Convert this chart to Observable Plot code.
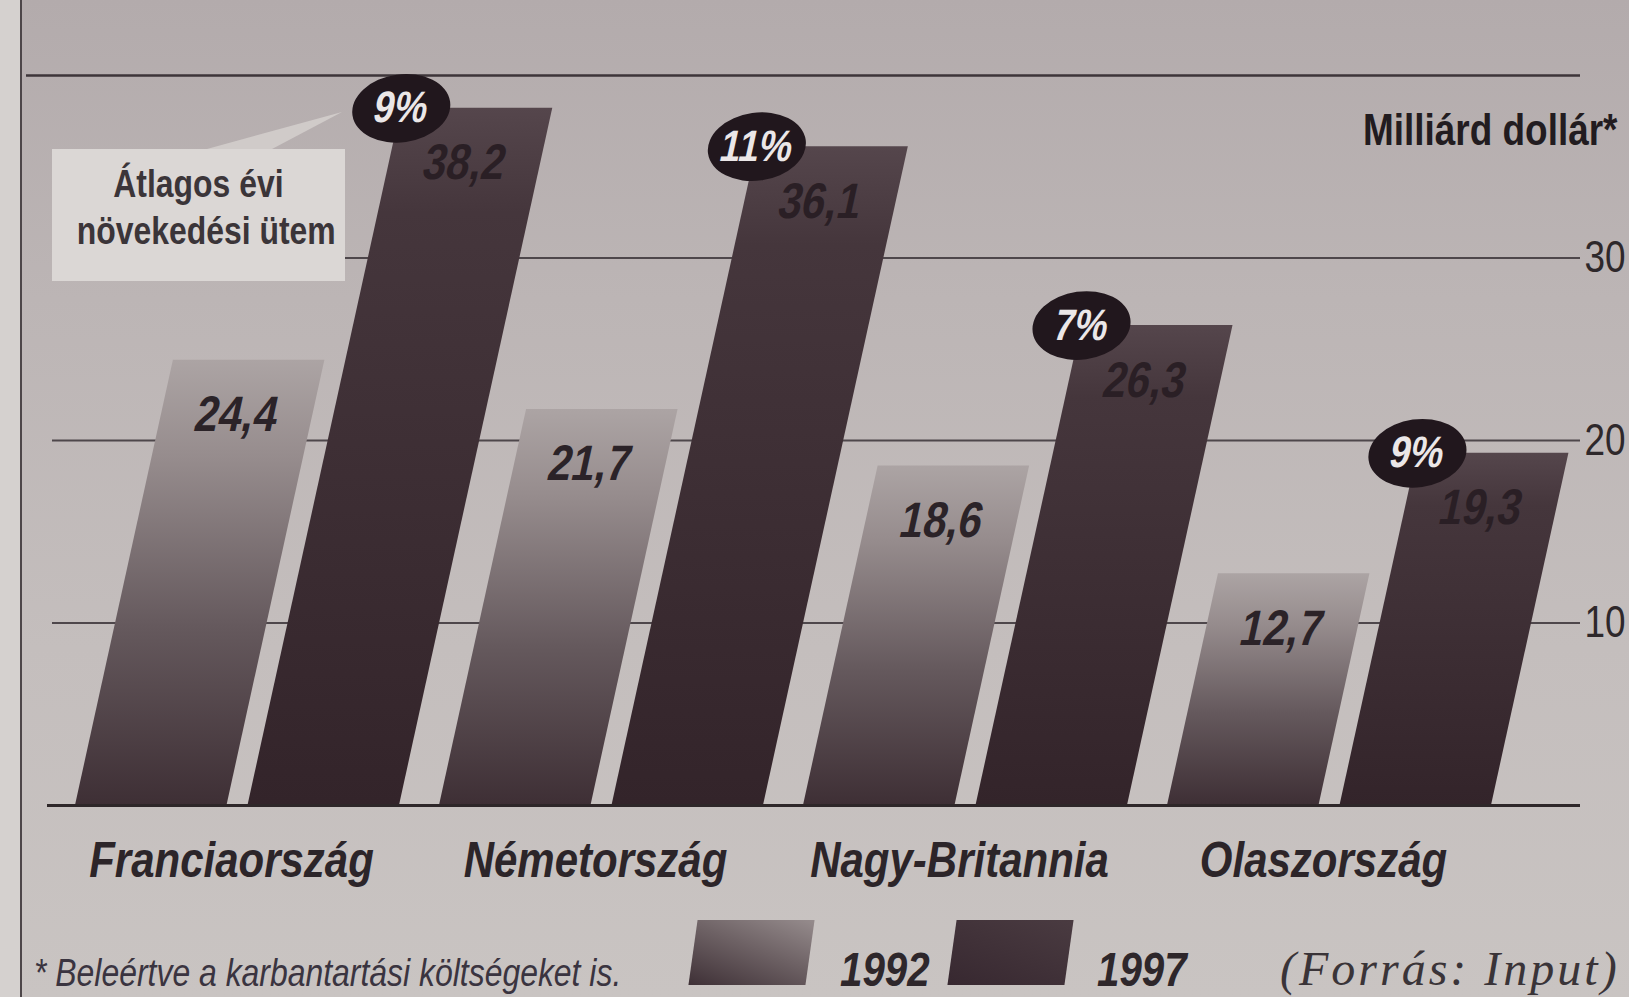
<!DOCTYPE html>
<html>
<head>
<meta charset="utf-8">
<script src="https://cdn.jsdelivr.net/npm/d3@7"></script>
<script src="https://cdn.jsdelivr.net/npm/@observablehq/plot@0.6"></script>
<style>
  html, body { margin: 0; padding: 0; }
  body { width: 1629px; height: 997px; overflow: hidden; background: #c2bbba; }
  #page { position: relative; width: 1629px; height: 997px; overflow: hidden;
    background: linear-gradient(180deg, #b3abac 0%, #bcb5b5 30%, #c4bebd 65%, #c9c4c2 100%); }
  #strip { position: absolute; left: 0; top: 0; width: 20px; height: 997px; background: #d5d1cf; }
  #frame { position: absolute; left: 20px; top: 0; width: 2px; height: 997px; background: #4d4649; }
  #chart { position: absolute; left: 0; top: 0; }
  .sans { font-family: "Liberation Sans", Arial, Helvetica, sans-serif; }
  .cond { display: inline-block; transform: scaleX(0.84); transform-origin: 0 50%; white-space: nowrap; }
  .condc { display: inline-block; transform: scaleX(0.84); transform-origin: 50% 50%; white-space: nowrap; }
  #callout { position: absolute; left: 52px; top: 149px; width: 293px; height: 132px; background: #dbd7d5;
    text-align: center; font-weight: bold; font-size: 38px; line-height: 47px; color: #3b3539;
    box-sizing: border-box; padding-top: 12px; }
  #wedge { position: absolute; left: 0; top: 0; }
  #footer { position: absolute; left: 0; top: 910px; width: 1629px; height: 87px; }
  #footer > div { position: absolute; white-space: nowrap; line-height: 1; }
  #note { left: 34px; top: 44px; font-size: 38px; font-style: italic; color: #3a3440; }
  .sw { top: 10px; height: 65px; width: 117px; transform: skewX(-8deg); }
  #sw92 { left: 693px; background: linear-gradient(200deg, #968c8d 0%, #6e6265 45%, #3e3036 100%); }
  #sw97 { left: 952px; background: linear-gradient(200deg, #4a3b41 0%, #372830 100%); }
  .yr { top: 36px; font-size: 48px; font-weight: bold; font-style: italic; color: #2e272b; }
  #y92 { left: 840px; }
  #y97 { left: 1097px; }
  #src { left: 1280px; top: 35px; font-size: 48px; font-style: italic; letter-spacing: 3px;
    font-family: "Liberation Serif", "DejaVu Serif", serif; color: #3a3438; }
</style>
</head>
<body>
<div id="page">
  <div id="strip"></div>
  <div id="frame"></div>
  <div id="chart"></div>
  <svg id="wedge" width="400" height="300"><polygon points="207,149 272,149 342,112" fill="#d0cbc9"/></svg>
  <div id="callout" class="sans"><span class="condc">Átlagos évi</span><br><span class="condc">növekedési ütem</span></div>
  <div id="footer" class="sans">
    <div id="note"><span class="cond">* Beleértve a karbantartási költségeket is.</span></div>
    <div class="sw" id="sw92"></div>
    <div class="yr" id="y92"><span class="cond">1992</span></div>
    <div class="sw" id="sw97"></div>
    <div class="yr" id="y97"><span class="cond">1997</span></div>
    <div id="src">(Forrás: Input)</div>
  </div>
</div>
<script>
// ---- data ----
const countries = ["Franciaország", "Németország", "Nagy-Britannia", "Olaszország"];
const values1992 = [24.4, 21.7, 18.6, 12.7];
const values1997 = [38.2, 36.1, 26.3, 19.3];
const growthLabels = ["9%", "11%", "7%", "9%"];
const yTicks = [10, 20, 30];
const yTop = [40];
const unitLabel = ["Milliárd dollár*"];

const d1992 = countries.map((c, i) => ({country: c, value: values1992[i]}));
const d1997 = countries.map((c, i) => ({country: c, value: values1997[i], growth: growthLabels[i]}));
const fmt = v => v.toFixed(1).replace(".", ",");

const SANS = '"Liberation Sans", Arial, Helvetica, sans-serif';
const W = 1629, H = 910;
const GAP = 21;        // gap between the two bars of a group
const SKEW = 12.4;     // degrees of slant of the bars
const COND = 0.84;     // horizontal squeeze of the condensed lettering
const base = {
  width: W, height: H, marginLeft: 75, marginRight: 138, marginTop: 75, marginBottom: 105,
  style: {background: "transparent", color: "#2c2529", fontFamily: SANS, overflow: "visible"},
  x: {domain: countries, paddingInner: 0.11, paddingOuter: 0},
  y: {domain: [0, 40]}
};

const probe = Plot.plot({...base, marks: [Plot.barY(d1992, {x: "country", y: "value"})]});
const bw = probe.scale("x").bandwidth;
const inset = (bw + GAP) / 2;
const off = (bw + GAP) / 4;

const chart = Plot.plot({
  ...base,
  marks: [
    Plot.ruleY(yTop, {stroke: "#3d3539", strokeWidth: 2.5, insetLeft: -49, insetRight: -89}),
    Plot.ruleY(yTicks, {stroke: "#4e474b", strokeWidth: 2.2, insetLeft: -23, insetRight: -89}),
    Plot.barY(d1992, {x: "country", y: "value", insetRight: inset, fill: "url(#g1992)", ariaDescription: "skew"}),
    Plot.barY(d1997, {x: "country", y: "value", insetLeft: inset, fill: "url(#g1997)", ariaDescription: "skew"}),
    Plot.ruleY([0], {stroke: "#2e2729", strokeWidth: 3, insetLeft: -28, insetRight: -89}),
    Plot.text(d1992, {x: "country", y: "value", text: d => fmt(d.value), dx: -off, dy: 55,
      fontSize: 50, fontWeight: "bold", fill: "#2b2328", ariaDescription: "skew"}),
    Plot.text(d1997, {x: "country", y: "value", text: d => fmt(d.value), dx: off, dy: 55,
      fontSize: 50, fontWeight: "bold", fill: "#2a1f25", ariaDescription: "skew"}),
    Plot.dot(d1997, {x: "country", y: "value", r: 34, fill: "#21171d", dx: GAP / 2, ariaDescription: "ovals"}),
    Plot.text(d1997, {x: "country", y: "value", text: "growth", dx: GAP / 2,
      fontSize: 44, fontWeight: "bold", fill: "#ebe7e8", ariaDescription: "skew"}),
    Plot.axisX({tickSize: 0, tickPadding: 36, label: null, dx: -6, fontSize: 50, fontWeight: "bold",
      fontStyle: "italic", fill: "#2c2529"}),
    Plot.axisY(yTicks, {anchor: "right", tickSize: 0, tickPadding: 93, label: null, fontSize: 44,
      fill: "#2e282b"}),
    Plot.text(unitLabel, {frameAnchor: "top-right", text: d => d, dx: 126, dy: 38, textAnchor: "end",
      lineAnchor: "top", fontSize: 44, fontWeight: "bold", fill: "#221c20"})
  ]
});

// gradients
const ns = "http://www.w3.org/2000/svg";
const defs = document.createElementNS(ns, "defs");
defs.innerHTML = `
  <linearGradient id="g1992" x1="0" y1="0" x2="0" y2="1">
    <stop offset="0" stop-color="#aca4a4"/>
    <stop offset="0.22" stop-color="#968c8d"/>
    <stop offset="0.6" stop-color="#65595d"/>
    <stop offset="1" stop-color="#3e2f35"/>
  </linearGradient>
  <linearGradient id="g1997" x1="0" y1="0" x2="0" y2="1">
    <stop offset="0" stop-color="#55464c"/>
    <stop offset="0.15" stop-color="#45363c"/>
    <stop offset="1" stop-color="#33242a"/>
  </linearGradient>`;
chart.insertBefore(defs, chart.firstChild);

// condensed lettering: squeeze every text horizontally around its anchor
chart.querySelectorAll("text").forEach(t => {
  const tr = t.getAttribute("transform") || "";
  t.setAttribute("transform", `${tr} scale(${COND} 1)`);
});

// slant bars and their labels around the baseline
const y0 = chart.scale("y").apply(0);
const k = Math.tan(SKEW * Math.PI / 180);
chart.querySelectorAll('g[aria-description="skew"]').forEach(g => {
  const w = document.createElementNS(ns, "g");
  w.setAttribute("transform", `translate(0,${y0}) skewX(${-SKEW}) translate(0,${-y0})`);
  g.parentNode.insertBefore(w, g);
  w.appendChild(g);
});
// ovals at the top-left corner of the slanted 1997 bars
chart.querySelectorAll('g[aria-description="ovals"] circle').forEach(c => {
  const cx = +c.getAttribute("cx"), cy = +c.getAttribute("cy");
  const nx = cx + k * (y0 - cy);
  c.setAttribute("cx", nx);
  c.setAttribute("transform", `rotate(-8 ${nx} ${cy}) translate(${nx} ${cy}) scale(1.45 1) translate(${-nx} ${-cy})`);
});

document.getElementById("chart").appendChild(chart);
</script>
</body>
</html>
